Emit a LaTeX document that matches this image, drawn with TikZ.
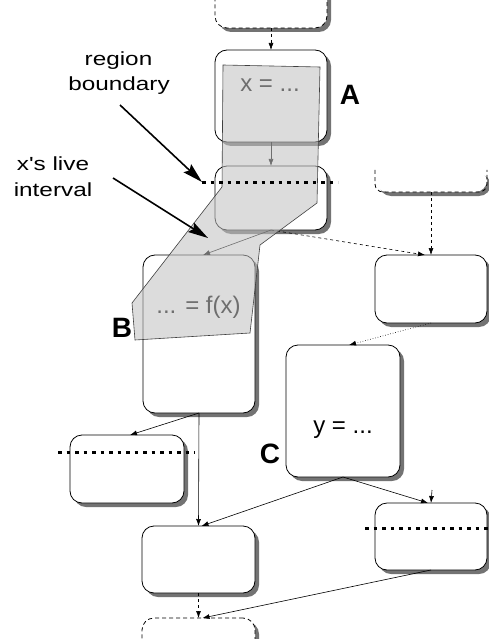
\documentclass[tikz,border=0pt]{standalone}
\usepackage{fontspec}
\setmainfont{Liberation Sans}
\newfontfamily\labfont[FakeStretch=1.28]{Liberation Sans}
\usetikzlibrary{arrows.meta,shadows}
\begin{document}
\begin{tikzpicture}[x=1pt,y=-1pt,
  blk/.style={draw=black, line width=0.8pt, rounded corners=12pt, fill=white,
    inner sep=0pt, outer sep=0pt,
    drop shadow={shadow xshift=4pt, shadow yshift=-4pt, fill=black!55, opacity=1}},
  dbox/.style={dash pattern=on 4pt off 3pt},
  edge/.style={draw=black, line width=0.6pt, -{Latex[length=7pt,width=5pt]}},
  rbound/.style={line width=3pt, dash pattern=on 3.5pt off 5pt},
  labarrow/.style={line width=1.6pt, -{Stealth[length=20pt,width=11pt,inset=3pt]}},
  labtxt/.style={font=\labfont\fontsize{19}{25}\selectfont, inner sep=0pt, anchor=base},
  codetxt/.style={font=\fontsize{24}{28}\selectfont, inner sep=0pt, anchor=base},
  bigl/.style={font=\fontsize{28}{30}\selectfont\bfseries, inner sep=0pt, anchor=base}
]
\useasboundingbox (0,0) rectangle (489,639);
\clip (0,0) rectangle (489,639);

% boxes
\node[blk, dbox, minimum width=112pt, minimum height=48pt] (T0) at (271,4) {};
\node[blk, minimum width=112pt, minimum height=92pt] (A) at (271,96) {};
\node[blk, minimum width=112pt, minimum height=64pt] (A2) at (271,198) {};
\node[blk, draw=none, minimum width=112pt, minimum height=22pt] (R0) at (431,181) {};
\draw[dbox, line width=0.8pt, rounded corners=8pt] (R0.north west) -- (R0.south west) -- (R0.south east) -- (R0.north east);
\node[blk, minimum width=112pt, minimum height=68pt] (R1) at (431,289) {};
\node[blk, minimum width=112pt, minimum height=158pt] (B) at (199,334) {};
\node[blk, minimum width=114pt, minimum height=132pt] (C) at (343,411) {};
\node[blk, minimum width=114pt, minimum height=68pt] (L) at (127,469) {};
\node[blk, minimum width=113pt, minimum height=67pt] (M) at (198.5,559.5) {};
\node[blk, minimum width=112pt, minimum height=67pt] (BR) at (431,536.5) {};
\node[blk, dbox, minimum width=113pt, minimum height=42pt] (BD) at (198.5,639) {};

% code texts
\node[codetxt] (tx) at (270,92) {x = ...};
\node[codetxt] (tf) at (198.5,313) {... = f(x)};
\node[codetxt] (ty) at (343,433) {y = ...};

% edges
\draw[edge, dashed] (T0.south) -- (A.north);
\draw[edge] (A.south) -- (A2.north);
\draw[edge] (A2.south) -- ([xshift=4pt]B.north);
\draw[edge, dashed] (A2.south) -- ([xshift=-6pt]R1.north);
\draw[edge, dashed] (R0.south) -- (R1.north);
\draw[edge, dotted] (R1.south) -- ([xshift=6pt]C.north);
\draw[edge] (B.south) -- ([xshift=3pt]L.north);
\draw[edge] (B.south) -- (M.north);
\draw[edge] (C.south) -- ([xshift=3pt]M.north);
\draw[edge] (C.south) -- ([xshift=-3pt]BR.north);
\coordinate (stub) at (432,490);
\draw[edge] (stub) -- (BR.north);
\draw[edge] (BR.south) -- ([xshift=4pt]BD.north);
\draw[edge, dashed] (M.south) -- (BD.north);

% live interval overlay
\filldraw[fill=black!24, fill opacity=0.57, draw=black!75, line width=0.6pt]
  (223,65) -- (320,67) -- (317,203) -- (260,245) -- (250,333) -- (135,340) -- (132,303) -- (222,187) -- cycle;

% region boundaries
\coordinate (d1a) at (202,182); \coordinate (d1b) at (338,182);
\coordinate (d2a) at (58,452);  \coordinate (d2b) at (195,452);
\coordinate (d3a) at (365,528); \coordinate (d3b) at (489,528);
\draw[rbound] (d1a) -- (d1b);
\draw[rbound] (d2a) -- (d2b);
\draw[rbound] (d3a) -- (d3b);

% labels
\node[labtxt] (l1a) at (118.5,66) {region};
\node[labtxt] (l1b) at (119,91) {boundary};
\node[labtxt] (l2a) at (53,171) {x's live};
\node[labtxt] (l2b) at (53,196) {interval};
\coordinate (a1s) at (120,105);
\coordinate (a2s) at (113,178);
\coordinate (a2e) at (208,238);
\draw[labarrow] (a1s) -- (d1a);
\draw[labarrow] (a2s) -- (a2e);

\node[bigl] (LA) at (350,105) {A};
\node[bigl] (LB) at (122,337) {B};
\node[bigl] (LC) at (270,463) {C};
\end{tikzpicture}
\end{document}
